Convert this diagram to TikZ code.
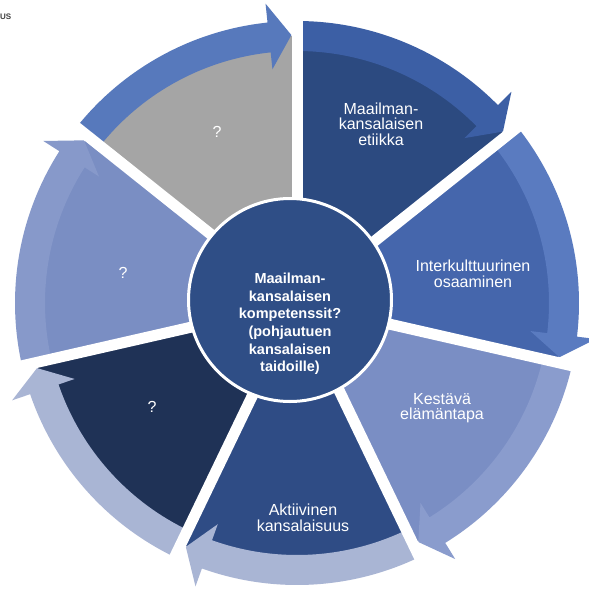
\documentclass[tikz,border=0pt]{standalone}
\usepackage{fontspec}
\setmainfont{Liberation Sans}
\definecolor{cEt}{HTML}{2C4A80}
\definecolor{bEt}{HTML}{3C5FA5}
\definecolor{cGr}{HTML}{A5A5A5}
\definecolor{bGr}{HTML}{5779BC}
\definecolor{cLq}{HTML}{7A8EC3}
\definecolor{bLq}{HTML}{8799CA}
\definecolor{cDq}{HTML}{1F3256}
\definecolor{bDq}{HTML}{A9B5D4}
\definecolor{cAk}{HTML}{2F4C85}
\definecolor{bAk}{HTML}{A9B5D4}
\definecolor{cKe}{HTML}{7A8EC4}
\definecolor{bKe}{HTML}{8A9CCD}
\definecolor{cIn}{HTML}{4566AC}
\definecolor{bIn}{HTML}{5A7BC0}
\definecolor{cCe}{HTML}{2F4E86}
\definecolor{cUs}{HTML}{404040}
\begin{document}
\begin{tikzpicture}[x=1pt,y=1pt,
  segtext/.style={text=white,font=\fontsize{16}{15.5}\selectfont,align=center,inner sep=0pt},
  ctext/.style={text=white,font=\fontsize{14.5}{17.6}\selectfont\bfseries,align=center,inner sep=0pt},
  gapline/.style={white,line width=11pt},
  core/.style={circle,fill=cCe,draw=white,line width=3pt,minimum size=203pt,inner sep=0pt}
]
\useasboundingbox (0,-592) rectangle (589,0);
\fill[white] (0,-592) rectangle (589,0);
\begin{scope}[shift={(297,-303)}]
  % segments
  \foreach \lo/\hi/\sc in {38.57/90/cEt,90/141.43/cGr,141.43/192.86/cLq,192.86/244.29/cDq,244.29/295.71/cAk,295.71/347.14/cKe,347.14/398.57/cIn}{
    \fill[\sc] (0,0) -- (\lo:267) arc[start angle=\lo, end angle=\hi, radius=267] -- cycle;
  }
  % arrows
  \foreach \lo/\hi/\bc in {38.57/90/bEt,90/141.43/bGr,141.43/192.86/bLq,192.86/244.29/bDq,244.29/295.71/bAk,295.71/347.14/bKe,347.14/398.57/bIn}{
    \pgfmathsetmacro\lb{\lo+6}
    \pgfmathsetmacro\lt{\lo+1.2}
    \fill[\bc] (\hi:282) arc[start angle=\hi, end angle=\lb, radius=282]
      -- (\lb:301) -- (\lt:268) -- (\lb:235) -- (\lb:252)
      arc[start angle=\lb, end angle=\hi, radius=252] -- cycle;
  }
  % gaps
  \foreach \a in {90,141.43,192.86,244.29,295.71,347.14,398.57}{
    \draw[gapline] (0,0) -- (\a:315);
  }
\end{scope}
\node[core] (centre) at (290,-300) {};
\node[ctext] (ctxt) at (290,-324) {Maailman-\\kansalaisen\\kompetenssit?\\(pohjautuen\\kansalaisen\\taidoille)};
\node[segtext] (t1) at (381,-124) {Maailman-\\kansalaisen\\etiikka};
\node[segtext] (t2) at (473,-274) {Interkulttuurinen\\osaaminen};
\node[segtext] (t3) at (442,-408) {Kestävä\\elämäntapa};
\node[segtext] (t4) at (303,-518) {Aktiivinen\\kansalaisuus};
\node[segtext] (t5) at (152,-407) {?};
\node[segtext] (t6) at (123,-273) {?};
\node[segtext] (t7) at (217,-132) {?};
\node[anchor=west,inner sep=0pt,text=cUs,font=\fontsize{8}{8}\selectfont\bfseries] (us) at (0,-17) {US};
\end{tikzpicture}
\end{document}
